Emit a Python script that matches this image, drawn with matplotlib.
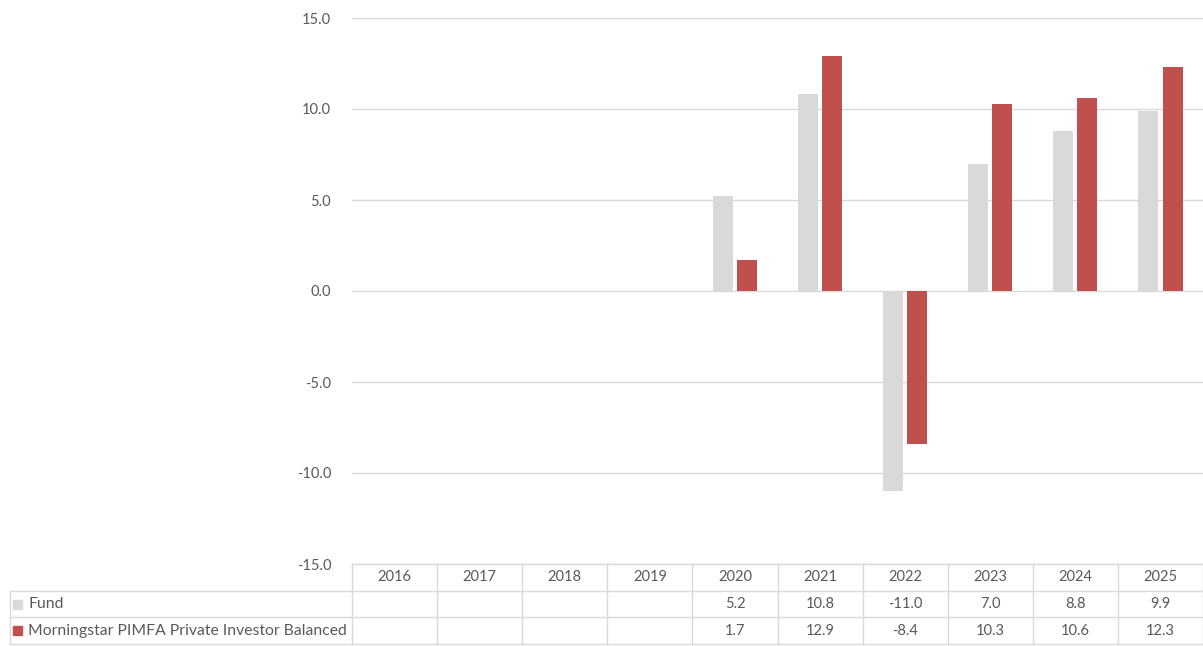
import matplotlib
matplotlib.use("Agg")
import matplotlib.pyplot as plt
from matplotlib.transforms import blended_transform_factory
import numpy as np

years = ["2016", "2017", "2018", "2019", "2020", "2021", "2022", "2023", "2024", "2025"]
fund = [None, None, None, None, 5.2, 10.8, -11.0, 7.0, 8.8, 9.9]
bench = [None, None, None, None, 1.7, 12.9, -8.4, 10.3, 10.6, 12.3]
series_names = ["Fund", "Morningstar PIMFA Private Investor Balanced"]
colors = ["#D9D9D9", "#C0504D"]
yticks = [-15, -10, -5, 0, 5, 10, 15]

plt.rcParams['font.family'] = ['Lato', 'DejaVu Sans']
txt_color = "#595959"
line_color = "#D9D9D9"

W, H = 1203, 646
fig = plt.figure(figsize=(W / 100, H / 100), dpi=100)
ax = fig.add_axes([352 / W, 1 - 564 / H, 1 - 352 / W, (564 - 18) / H])

x = np.arange(len(years))
bw = 0.235
off = 0.142
for vals, sign, c in [(fund, -1, colors[0]), (bench, 1, colors[1])]:
    xs = [xi + sign * off for xi, v in zip(x, vals) if v is not None]
    vs = [v for v in vals if v is not None]
    ax.bar(xs, vs, width=bw, color=c, zorder=3)

ax.set_xlim(-0.5, len(years) - 0.5)
ax.set_ylim(-15, 15)
ax.set_yticks(yticks)
ax.set_yticklabels([f"{t:.1f}" for t in yticks])
ax.tick_params(axis='y', length=0, pad=15, labelsize=10.5, labelcolor=txt_color)
ax.set_xticks([])
ax.grid(axis='y', color=line_color, linewidth=1, zorder=0)
for s in ax.spines.values():
    s.set_visible(False)

# data table
tr = blended_transform_factory(ax.transData, ax.transAxes)
axh = 564 - 18
rh = 26.7 / axh
xl = (10 - 352) / (W - 352) * len(years) - 0.5  # left edge of label column in data units
lk = dict(color=line_color, linewidth=1, transform=tr, clip_on=False)
# horizontal lines
ax.plot([-0.5, len(years) - 0.5], [0, 0], **lk)
for r in range(1, 4):
    ax.plot([xl, len(years) - 0.5], [-r * rh, -r * rh], **lk)
# vertical lines
for i in range(len(years) + 1):
    ax.plot([i - 0.5, i - 0.5], [0, -3 * rh], **lk)
ax.plot([xl, xl], [-rh, -3 * rh], **lk)

tk = dict(transform=tr, clip_on=False, fontsize=10.5, color=txt_color,
          ha='center', va='center')
for i, yr in enumerate(years):
    ax.text(i, -0.5 * rh, yr, **tk)
for r, vals in enumerate([fund, bench], start=1):
    for i, v in enumerate(vals):
        if v is not None:
            ax.text(i, -(r + 0.5) * rh, f"{v:.1f}", **tk)

# legend keys in table
for r, (name, c) in enumerate(zip(series_names, colors), start=1):
    yc = 1 - (564 + (r + 0.5) * 26.7) / H
    fig.patches.append(plt.Rectangle((13 / W, yc - 4.5 / H), 9 / W, 9 / H,
                                     transform=fig.transFigure, color=c))
    fig.text(28 / W, yc, name, fontsize=11.3, color=txt_color, ha='left', va='center')

fig.savefig("out.png", dpi=100)
